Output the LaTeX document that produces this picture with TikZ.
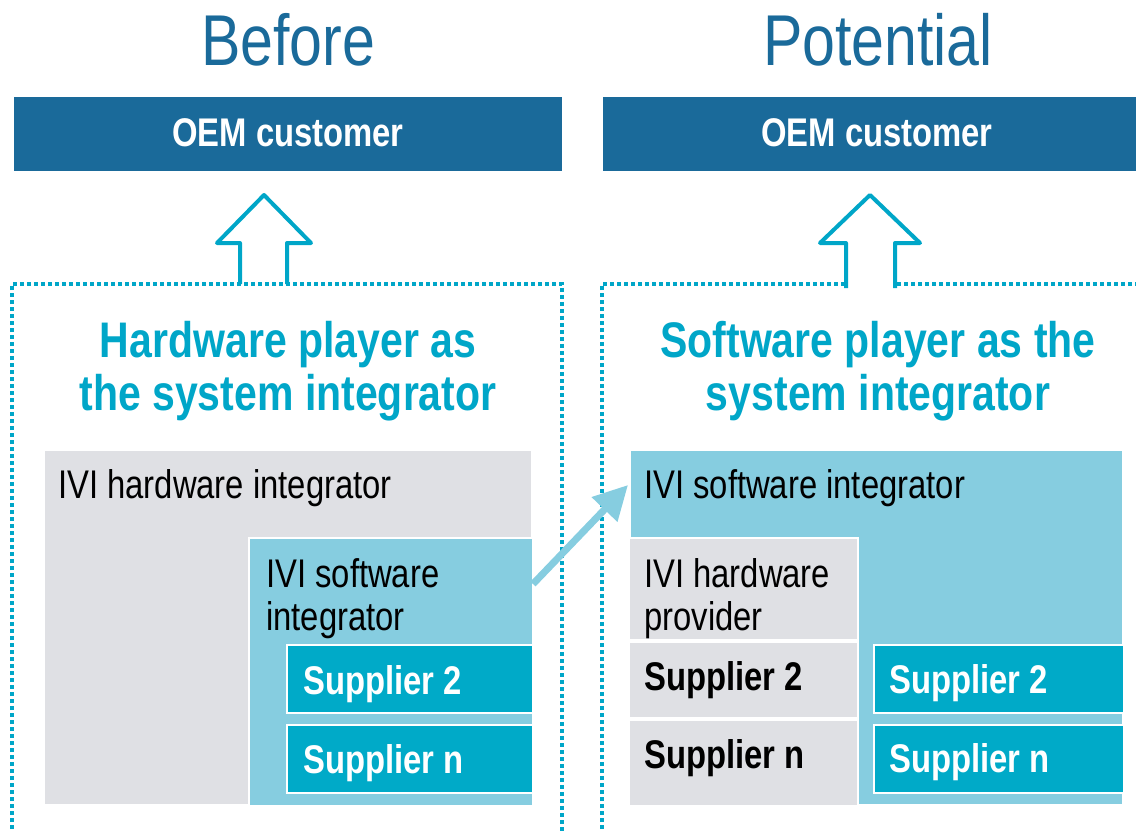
\documentclass[tikz,border=0pt]{standalone}
\usepackage{fontspec}
\setmainfont{Liberation Sans}[FakeStretch=0.82]
\usetikzlibrary{arrows.meta,calc}
\definecolor{oemblue}{RGB}{26,106,154}
\definecolor{tealc}{RGB}{0,166,200}
\definecolor{supteal}{RGB}{0,170,200}
\definecolor{lightb}{RGB}{134,205,224}
\definecolor{grayb}{RGB}{223,224,228}
\tikzset{
  box/.style={rectangle,inner sep=0pt,outer sep=0pt,anchor=north west},
  oembox/.style={box,fill=oemblue},
  graybox/.style={box,fill=grayb,draw=white,line width=2pt},
  bluebox/.style={box,fill=lightb,draw=white,line width=2pt},
  supbox/.style={box,fill=supteal,draw=white,line width=2pt},
  headtxt/.style={text=oemblue,font=\fontsize{72}{80}\selectfont,inner sep=0pt},
  oemtxt/.style={text=white,font=\fontsize{40}{44}\selectfont\bfseries,inner sep=0pt},
  titletxt/.style={anchor=base,text=tealc,font=\fontsize{50}{54}\selectfont\bfseries,inner sep=0pt},
  lbl/.style={anchor=base west,inner sep=0pt,font=\fontsize{40}{43}\selectfont},
  suptxt/.style={anchor=base west,inner sep=0pt,font=\fontsize{40}{44}\selectfont\bfseries,text=white},
  supdark/.style={anchor=base west,inner sep=0pt,font=\fontsize{40}{44}\selectfont\bfseries,text=black},
  dotbox/.style={draw=tealc,line width=4pt,dash pattern=on 4pt off 3pt},
  hollow/.style={draw=tealc,line width=4pt,line join=round},
  shiftarrow/.style={draw=lightb,line width=7pt,-{Triangle[length=34pt,width=34pt]}}
}
\begin{document}
\begin{tikzpicture}[x=1pt,y=-1pt]
\useasboundingbox (0,0) rectangle (1136,832);
% headings
\node[headtxt,anchor=base] (hbefore) at (288,66) {Before};
\node[headtxt,anchor=base] (hpot) at (878,66) {Potential};
% OEM boxes
\node[oembox,minimum width=548pt,minimum height=74pt] (oemL) at (14,97) {};
\node[oemtxt,anchor=base] at ($(oemL.south)+(0,-24)$) {OEM customer};
\node[oembox,minimum width=540pt,minimum height=74pt] (oemR) at (603,97) {};
\node[oemtxt,anchor=base] at ($(oemR.south)+(4,-24)$) {OEM customer};
% dotted frames
\draw[dotbox] (12,850) -- (12,284) -- (562,284) -- (562,850);
\draw[dotbox] (602,850) -- (602,284) -- (1150,284);
% hollow arrows
\draw[hollow] (240,284) -- (240,243) -- (217,243) -- (264,195) -- (311,243) -- (287,243) -- (287,284);
\filldraw[hollow,fill=white] (846,288) -- (846,243) -- (820,243) -- (870,195) -- (920,243) -- (895,243) -- (895,288);
% titles
\node[titletxt] (tL1) at (288,357) {Hardware player as};
\node[titletxt] (tL2) at (288,410) {the system integrator};
\node[titletxt] (tR1) at (878,357) {Software player as the};
\node[titletxt] (tR2) at (878,410) {system integrator};
% left stack
\node[graybox,minimum width=488pt,minimum height=355pt] (lhw) at (44,450) {};
\node[lbl] at (58,498) {IVI hardware integrator};
\node[bluebox,minimum width=284pt,minimum height=268pt] (lsw) at (249,538) {};
\node[lbl] at (266,587) {IVI software};
\node[lbl] at (266,630) {integrator};
\node[supbox,minimum width=246pt,minimum height=68pt] (ls2) at (287,645) {};
\node[suptxt] at (303,694) {Supplier 2};
\node[supbox,minimum width=246pt,minimum height=68pt] (lsn) at (287,725) {};
\node[suptxt] at (303,773) {Supplier n};
% right stack
\node[bluebox,minimum width=493pt,minimum height=355pt] (rsw) at (630,450) {};
\node[lbl] at (644,498) {IVI software integrator};
\node[graybox,minimum width=229pt,minimum height=102pt] (rhw) at (629,538) {};
\node[lbl] at (644,587) {IVI hardware};
\node[lbl] at (644,630) {provider};
\node[graybox,minimum width=229pt,minimum height=76pt] (rg2) at (629,642) {};
\node[supdark] at (644,690) {Supplier 2};
\node[graybox,minimum width=229pt,minimum height=86pt] (rgn) at (629,720) {};
\node[supdark] at (644,768) {Supplier n};
\node[supbox,minimum width=250pt,minimum height=68pt] (rs2) at (874,645) {};
\node[suptxt] at (889,693) {Supplier 2};
\node[supbox,minimum width=250pt,minimum height=68pt] (rsn) at (874,725) {};
\node[suptxt] at (889,772) {Supplier n};
% shift arrow
\draw[shiftarrow] ($(lsw.north east)+(0,46)$) -- ($(rsw.north west)+(-2,35)$);
\end{tikzpicture}
\end{document}
